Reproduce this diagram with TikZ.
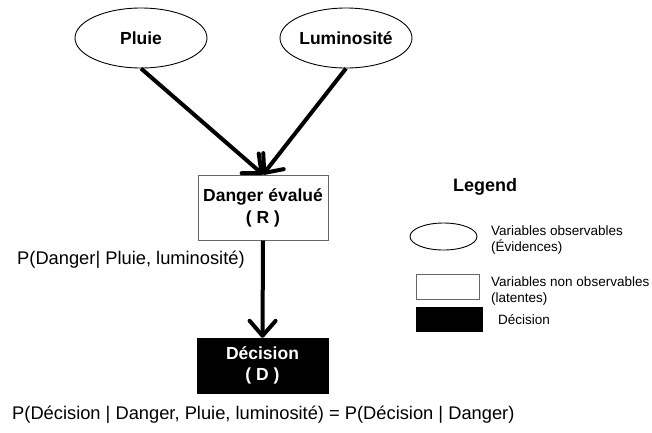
\documentclass[tikz,border=0pt]{standalone}
\usepackage{fontspec}
\setmainfont{Liberation Sans}
\usetikzlibrary{shapes.geometric,arrows.meta}
\tikzset{
  ellnode/.style={draw=black,line width=0.9pt,ellipse,inner sep=0pt,minimum width=132pt,minimum height=60pt,font=\fontsize{17.5}{20}\selectfont\bfseries},
  latbox/.style={draw=black!60,line width=1pt,rectangle,inner sep=0pt,minimum width=130pt,align=center,font=\fontsize{17.5}{22}\selectfont\bfseries},
  decbox/.style={fill=black,draw=black,rectangle,inner sep=0pt,minimum width=131pt,align=center,text=white,font=\fontsize{17.5}{21}\selectfont\bfseries},
  annot/.style={inner sep=0pt,font=\fontsize{18.3}{21}\selectfont},
  legtxt/.style={inner sep=0pt,anchor=west,align=left,font=\fontsize{13.5}{16}\selectfont},
  bigarrow/.style={line width=4pt,-{Straight Barb[length=15pt,width=26pt,round]}},
}
\begin{document}
\begin{tikzpicture}[x=1pt,y=-1pt]
\useasboundingbox (0,0) rectangle (652,432);
\node[ellnode] (pluie) at (141,38) {Pluie};
\node[ellnode] (lum) at (346,38) {Luminosité};
\node[latbox,minimum height=65pt] (danger) at (263,207.5) {Danger évalué\\( R )};
\node[decbox,minimum height=55pt] (decision) at (262.5,365.5) {Décision\\( D )};
\draw[bigarrow] (pluie.south) -- (danger.north);
\draw[bigarrow] (lum.south) -- (danger.north);
\draw[bigarrow] (danger.south) -- (decision.north);
\node[annot,anchor=west] (pdanger) at (17,260) {P(Danger| Pluie, luminosité)};
\node[annot,anchor=west] (pdecision) at (12,415) {P(Décision | Danger, Pluie, luminosité) = P(Décision | Danger)};
% legend
\node[inner sep=0pt,font=\fontsize{18}{20}\selectfont\bfseries] (legtitle) at (485,187) {Legend};
\node[draw=black,line width=0.9pt,ellipse,inner sep=0pt,minimum width=67pt,minimum height=27pt] (legell) at (443.5,236.5) {};
\node[legtxt] (legelltxt) at (491,240) {Variables observables\\(Évidences)};
\node[draw=black!60,line width=1pt,rectangle,inner sep=0pt,minimum width=63pt,minimum height=25pt] (legrect) at (447.5,286.5) {};
\node[legtxt] (legrecttxt) at (491,290.5) {Variables non observables\\(latentes)};
\node[fill=black,rectangle,inner sep=0pt,minimum width=67pt,minimum height=25pt] (legblack) at (449.5,319.5) {};
\node[legtxt] (legblacktxt) at (498,320) {Décision};
\end{tikzpicture}
\end{document}
